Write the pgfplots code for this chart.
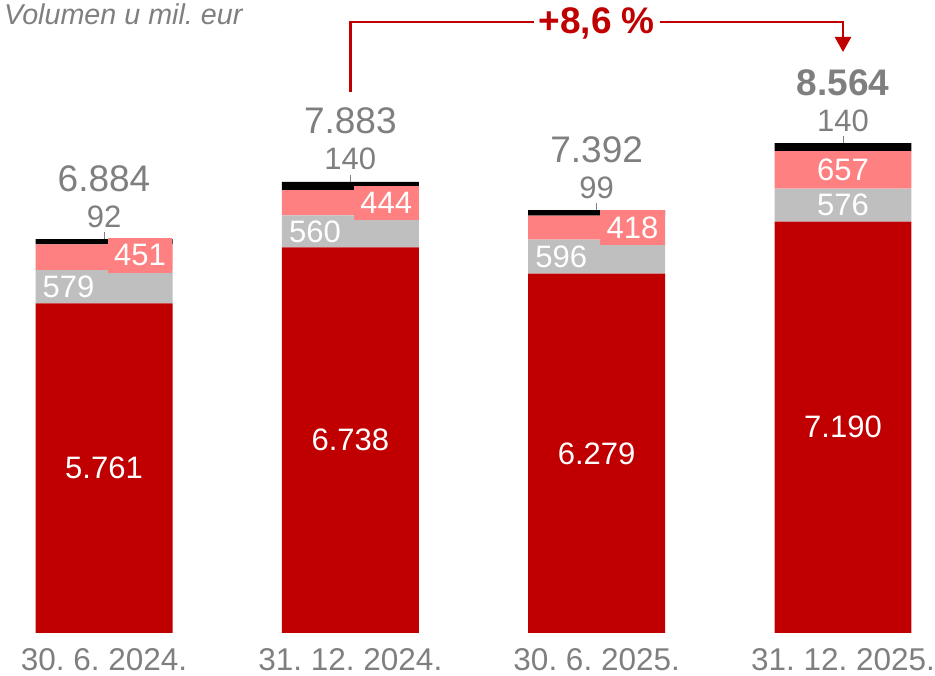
\documentclass[border=0pt]{standalone}
\usepackage{pgfplots}
\pgfplotsset{compat=1.18}
\usepackage{fontspec}
\setmainfont{Liberation Sans}
\usetikzlibrary{arrows.meta}
\definecolor{cred}{HTML}{C00000}
\definecolor{cgrey}{HTML}{BFBFBF}
\definecolor{cpink}{HTML}{FF8080}
\definecolor{ctext}{HTML}{7F7F7F}
\newcommand{\flbl}{\fontsize{31}{36}\selectfont}
\newcommand{\ftot}{\fontsize{37}{42}\selectfont}
\frenchspacing
\begin{document}
\begin{tikzpicture}[x=1pt,y=1pt]
\path[use as bounding box] (0,0) rectangle (935,676);
\node[anchor=base west, text=ctext, font=\fontsize{28.7}{32}\selectfont\itshape, inner sep=0pt] at (4,651) {Volumen u mil. eur};
\begin{axis}[at={(0pt,43pt)}, anchor=south west, scale only axis,
  width=935pt, height=633pt,
  xmin=-0.4223, xmax=3.3735, ymin=0, ymax=11063,
  ybar stacked, bar width=0.556,
  axis line style={draw=none}, major tick length=0pt, ytick=\empty,
  xtick={0,1,2,3},
  xticklabels={30. 6. 2024., 31. 12. 2024., 30. 6. 2025., 31. 12. 2025.},
  xticklabel style={font=\fontsize{31.5}{36}\selectfont, text=ctext, inner sep=0pt, anchor=north, yshift=-15pt},
  clip=false]
\addplot[fill=cred, draw=none] coordinates {(0,5761) (1,6738) (2,6279) (3,7190)};
\addplot[fill=cgrey, draw=none] coordinates {(0,579) (1,560) (2,596) (3,576)};
\addplot[fill=cpink, draw=none] coordinates {(0,451) (1,444) (2,418) (3,657)};
\addplot[fill=black, draw=none] coordinates {(0,92) (1,140) (2,99) (3,140)};
% anchor coordinates for labels
\coordinate (r0) at (axis cs:0,2880.5);
\coordinate (r1) at (axis cs:1,3369);
\coordinate (r2) at (axis cs:2,3139.5);
\coordinate (r3) at (axis cs:3,3595);
\coordinate (g0) at (axis cs:-0.278,6050.5);
\coordinate (g1) at (axis cs:0.722,7018);
\coordinate (g2) at (axis cs:1.722,6577);
\coordinate (g3) at (axis cs:3,7478);
\coordinate (p0) at (axis cs:0.278,6565.5);
\coordinate (p1) at (axis cs:1.278,7520);
\coordinate (p2) at (axis cs:2.278,7084);
\coordinate (p3) at (axis cs:3,8094.5);
\coordinate (t0) at (axis cs:0,6883);
\coordinate (t1) at (axis cs:1,7882);
\coordinate (t2) at (axis cs:2,7392);
\coordinate (t3) at (axis cs:3,8563);
\coordinate (a0) at (axis cs:1,9455);
\coordinate (a1) at (axis cs:3,10678);
\coordinate (a2) at (axis cs:3,10154);
\coordinate (am) at (axis cs:2,10678);
\end{axis}
% growth arrow
\draw[cred, line width=2.5pt, -{Triangle[width=16pt,length=15pt]}] (a0) |- (a1) -- (a2);
\node[fill=white, text=cred, font=\ftot\bfseries, anchor=base, inner xsep=5pt, inner ysep=2pt, yshift=-11pt] at (am) {+8,6 \%};
% leader ticks
\foreach \t in {t0,t1,t2,t3} \draw[ctext, line width=1pt] (\t) -- ++(0pt,7pt);
% red labels
\node[text=white, font=\flbl] at (r0) {5.761};
\node[text=white, font=\flbl] at (r1) {6.738};
\node[text=white, font=\flbl] at (r2) {6.279};
\node[text=white, font=\flbl] at (r3) {7.190};
% grey labels
\node[text=white, font=\flbl, anchor=west, inner sep=0pt, xshift=7pt] at (g0) {579};
\node[text=white, font=\flbl, anchor=west, inner sep=0pt, xshift=7pt] at (g1) {560};
\node[text=white, font=\flbl, anchor=west, inner sep=0pt, xshift=7pt] at (g2) {596};
\node[text=white, font=\flbl, inner sep=0pt] at (g3) {576};
% pink labels
\node[fill=cpink, text=white, font=\flbl, anchor=east, inner sep=6.5pt, yshift=2pt] at (p0) {451};
\node[fill=cpink, text=white, font=\flbl, anchor=east, inner sep=6.5pt] at (p1) {444};
\node[fill=cpink, text=white, font=\flbl, anchor=east, inner sep=6.5pt] at (p2) {418};
\node[text=white, font=\flbl, inner sep=0pt] at (p3) {657};
% black segment labels
\node[text=ctext, font=\flbl, anchor=base, inner sep=0pt, yshift=12pt] at (t0) {92};
\node[text=ctext, font=\flbl, anchor=base, inner sep=0pt, yshift=12pt] at (t1) {140};
\node[text=ctext, font=\flbl, anchor=base, inner sep=0pt, yshift=12pt] at (t2) {99};
\node[text=ctext, font=\flbl, anchor=base, inner sep=0pt, yshift=12pt] at (t3) {140};
% totals
\node[text=ctext, font=\ftot, anchor=base, inner sep=0pt, yshift=48pt] at (t0) {6.884};
\node[text=ctext, font=\ftot, anchor=base, inner sep=0pt, yshift=48pt] at (t1) {7.883};
\node[text=ctext, font=\ftot, anchor=base, inner sep=0pt, yshift=48pt] at (t2) {7.392};
\node[text=ctext, font=\ftot\bfseries, anchor=base, inner sep=0pt, yshift=48pt] at (t3) {8.564};
\end{tikzpicture}
\end{document}
